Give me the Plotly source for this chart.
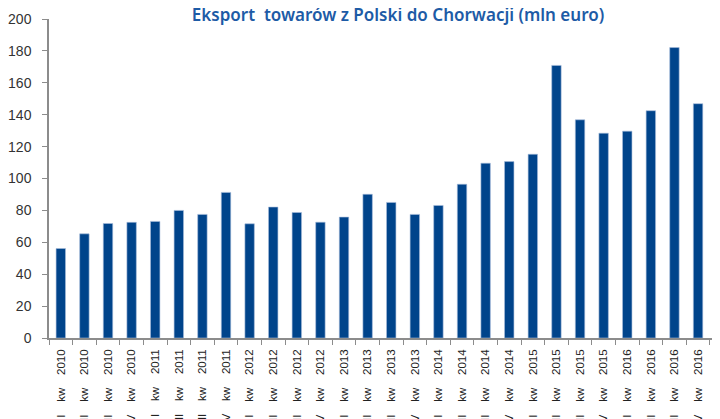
import plotly.graph_objects as go

# quarters shown on the category axis (wide gaps as in the source chart)
quarters = ['I    kw    2010', 'II    kw    2010', 'III    kw    2010', 'IV    kw    2010',
            'I    kw    2011', 'II    kw    2011', 'III    kw    2011', 'IV    kw    2011',
            'I    kw    2012', 'II    kw    2012', 'III    kw    2012', 'IV    kw    2012',
            'I    kw    2013', 'II    kw    2013', 'III    kw    2013', 'IV    kw    2013',
            'I    kw    2014', 'II    kw    2014', 'III    kw    2014', 'IV    kw    2014',
            'I    kw    2015', 'II    kw    2015', 'III    kw    2015', 'IV    kw    2015',
            'I    kw    2016', 'II    kw    2016', 'III    kw    2016', 'IV    kw    2016']

# export value, mln euro
export_mln_eur = [56.1, 65.3, 71.8, 72.5,
                  73.1, 80.0, 77.5, 91.3,
                  71.6, 82.1, 78.7, 72.6,
                  75.8, 90.1, 85.0, 77.5,
                  83.1, 96.4, 109.6, 110.6,
                  115.2, 170.9, 136.8, 128.4,
                  129.7, 142.5, 182.1, 146.9]

y_ticks = [0, 20, 40, 60, 80, 100, 120, 140, 160, 180, 200]

fig = go.Figure()
fig.add_trace(go.Bar(x=quarters, y=export_mln_eur,
                     marker=dict(color='#00448b', line=dict(color='#a9bedb', width=0.6))))

# page body has an 8px margin, so the figure is a bit smaller than the window
fig.update_layout(
    template='none',
    width=712, height=411,
    margin=dict(l=41, r=0, t=11, b=81),
    paper_bgcolor='white', plot_bgcolor='white',
    bargap=0.6,
    showlegend=False,
    title=dict(text='Eksport  towarów z Polski do Chorwacji (mln euro)',
               x=390 / 712, xanchor='center', y=1 - 1 / 411, yanchor='top', pad=dict(t=0),
               font=dict(family='Noto Sans', size=17, color='#1d5ba6', weight=600)),
    font=dict(family='Liberation Sans', color='#333333'),
)

fig.update_xaxes(type='category', range=[-0.5, 27.93], tickangle=-90,
                 showline=True, linecolor='#8c8c8c', linewidth=1.5,
                 ticks='outside', tickson='boundaries', ticklen=5, tickcolor='#8c8c8c',
                 ticklabelstandoff=5,
                 tickfont=dict(family='Liberation Sans', size=11.5, color='#222222'),
                 showgrid=False, zeroline=False, automargin=False)

fig.update_yaxes(range=[0, 200], tickvals=y_ticks,
                 showline=True, linecolor='#8c8c8c', linewidth=1.5,
                 ticks='outside', ticklen=5, tickcolor='#8c8c8c',
                 ticklabelstandoff=8,
                 tickfont=dict(family='Liberation Sans', size=14, color='#333333'),
                 showgrid=False, zeroline=False, automargin=False)

fig.write_html('out.html')
